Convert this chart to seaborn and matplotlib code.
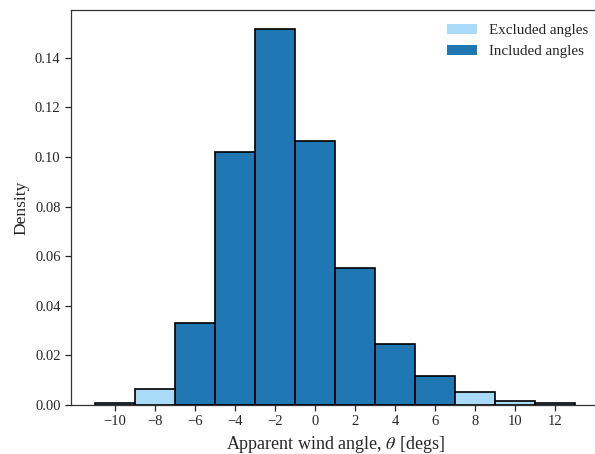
import numpy as np
import pandas as pd
import matplotlib
matplotlib.use("Agg")
import matplotlib.pyplot as plt
from matplotlib.patches import Patch
import seaborn as sns

# Histogram bins (degrees) and their densities
bin_edges = [-11, -9, -7, -5, -3, -1, 1, 3, 5, 7, 9, 11, 13]
densities = [0.0007, 0.0063, 0.0331, 0.1020, 0.1516, 0.1062, 0.0552,
             0.0245, 0.0117, 0.0052, 0.0018, 0.0008]
groups = ["Excluded angles", "Excluded angles", "Included angles",
          "Included angles", "Included angles", "Included angles",
          "Included angles", "Included angles", "Included angles",
          "Excluded angles", "Excluded angles", "Excluded angles"]

x_ticks = [-10, -8, -6, -4, -2, 0, 2, 4, 6, 8, 10, 12]
y_ticks = [0.00, 0.02, 0.04, 0.06, 0.08, 0.10, 0.12, 0.14]

light_blue = "#a9dbf9"
dark_blue = "#1f77b4"
palette = {"Excluded angles": light_blue, "Included angles": dark_blue}

sns.set_style("ticks")
plt.rcParams["font.family"] = ["Liberation Serif", "DejaVu Serif"]
plt.rcParams["mathtext.fontset"] = "stix"

centers = [(a + b) / 2 for a, b in zip(bin_edges[:-1], bin_edges[1:])]
df = pd.DataFrame({"angle": centers, "density": densities, "group": groups})

fig = plt.figure(figsize=(5.95, 4.54), dpi=100)
ax = fig.add_axes([0.1193, 0.1079, 0.8874, 0.8701])

sns.histplot(data=df, x="angle", weights="density", bins=bin_edges,
             hue="group", palette=palette, multiple="layer", alpha=1.0,
             edgecolor="black", linewidth=1.2, legend=False, ax=ax)

ax.set_xlim(-12.2, 14.2)
ax.set_ylim(0, 0.1592)
ax.set_xticks(x_ticks)
ax.set_xticklabels([f"{t}".replace("-", "\u2212") for t in x_ticks])
ax.set_yticks(y_ticks)
ax.set_yticklabels([f"{t:.2f}" for t in y_ticks])
ax.tick_params(labelsize=10.5, length=4, width=0.9, direction="out")
for s in ax.spines.values():
    s.set_linewidth(0.9)
    s.set_color("#333333")

ax.set_xlabel(r"Apparent wind angle, $\theta$ [degs]", fontsize=13)
ax.set_ylabel("Density", fontsize=12.5)

handles = [Patch(facecolor=light_blue, edgecolor="none", label="Excluded angles"),
           Patch(facecolor=dark_blue, edgecolor="none", label="Included angles")]
fig.legend(handles=handles, loc="upper right", frameon=False, fontsize=10.8,
           bbox_to_anchor=(1.011, 0.977), bbox_transform=fig.transFigure,
           handlelength=2.0)

fig.savefig("out.png", dpi=100)
